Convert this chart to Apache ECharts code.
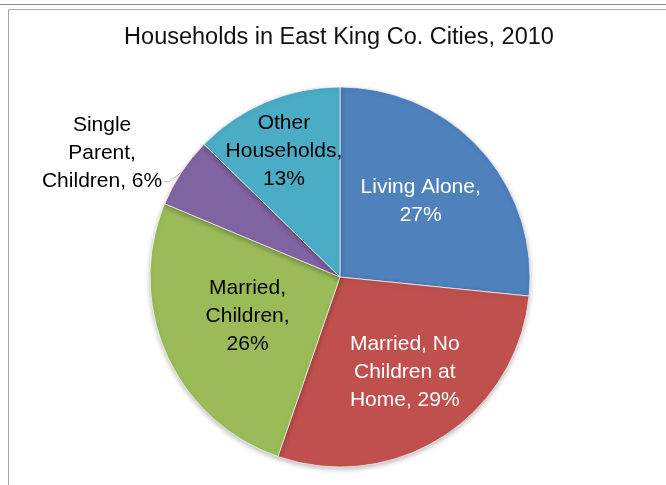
<!DOCTYPE html>
<html>
<head>
<meta charset="utf-8">
<script src="https://cdn.jsdelivr.net/npm/echarts@6/dist/echarts.min.js"></script>
<style>
  html, body { margin: 0; padding: 0; background: #fff; }
  #chart { width: 666px; height: 485px; }
</style>
</head>
<body>
<div id="chart"></div>
<script>
// household types, clockwise from 12 o'clock
const categories = ['Living Alone', 'Married, No Children at Home', 'Married, Children', 'Single Parent, Children', 'Other Households'];
const shares = [26.6, 28.7, 26.0, 6.0, 12.7];
// label text as broken in the original, percent appended
const labelHeads = ['Living Alone,\n', 'Married, No\nChildren at\nHome, ', 'Married,\nChildren,\n', 'Single\nParent,\nChildren, ', 'Other\nHouseholds,\n'];
const colors = ['#4F81BD', '#C0504D', '#9BBB59', '#8064A2', '#4BACC6'];
const labelColors = ['#fff', '#fff', '#000', '#000', '#000'];

// nudges for the labels
const labelShift = [[8, -10], [12, 13], [-3, -1], [0, -13], [-18, -35]];
const LINE_H = 28;

const chart = echarts.init(document.getElementById('chart'));

chart.setOption({
  backgroundColor: '#fff',
  animation: false,
  title: {
    text: 'Households in East King Co. Cities, 2010',
    left: 339,
    top: 26,
    padding: 0,
    textAlign: 'center',
    textStyle: { fontFamily: 'Liberation Sans', fontSize: 23.5, fontWeight: 'normal', color: '#111' }
  },
  graphic: [
    { type: 'line', shape: { x1: 0, y1: 4.5, x2: 666, y2: 4.5 }, style: { stroke: '#8a8a8a', lineWidth: 1 } },
    { type: 'line', shape: { x1: 8.5, y1: 9.5, x2: 666, y2: 9.5 }, style: { stroke: '#a8a8a8', lineWidth: 1 } },
    { type: 'line', shape: { x1: 8.5, y1: 9.5, x2: 8.5, y2: 485 }, style: { stroke: '#a8a8a8', lineWidth: 1 } }
  ],
  series: [
    {
      type: 'pie',
      center: [340, 277],
      radius: 190,
      startAngle: 90,
      clockwise: true,
      label: {
        position: 'inside',
        fontFamily: 'Liberation Sans',
        fontSize: 21,
        lineHeight: LINE_H,
        formatter: p => labelHeads[p.dataIndex] + Math.round(p.percent) + '%'
      },
      itemStyle: {
        borderColor: 'rgba(255,255,255,0.7)',
        borderWidth: 1,
        shadowBlur: 5,
        shadowColor: 'rgba(0,0,0,0.25)',
        shadowOffsetY: 2
      },
      labelLayout: p => {
        const s = labelShift[p.dataIndex];
        if (p.dataIndex === 3 && p.labelLinePoints) {
          // outside label: centred block, leader runs from the slice edge
          // to the end of the last text line
          const r = p.labelRect;
          const cx = r.x + r.width / 2 + s[0];
          const cy = r.y + r.height / 2 + s[1];
          const edge = p.labelLinePoints[0];
          const right = cx + r.width / 2;
          const lastY = cy + LINE_H;
          return {
            x: cx,
            y: cy,
            align: 'center',
            verticalAlign: 'middle',
            labelLinePoints: [edge, [right + 7, lastY], [right + 2, lastY]]
          };
        }
        return { dx: s[0], dy: s[1] };
      },
      data: categories.map((name, i) => {
        const item = {
          name: name,
          value: shares[i],
          itemStyle: { color: colors[i] },
          label: { color: labelColors[i] }
        };
        if (i === 3) {
          item.label.position = 'outside';
          item.labelLine = { show: true, length: 10, length2: 6, lineStyle: { color: '#bbb', width: 1 } };
        }
        return item;
      })
    }
  ]
});
</script>
</body>
</html>
